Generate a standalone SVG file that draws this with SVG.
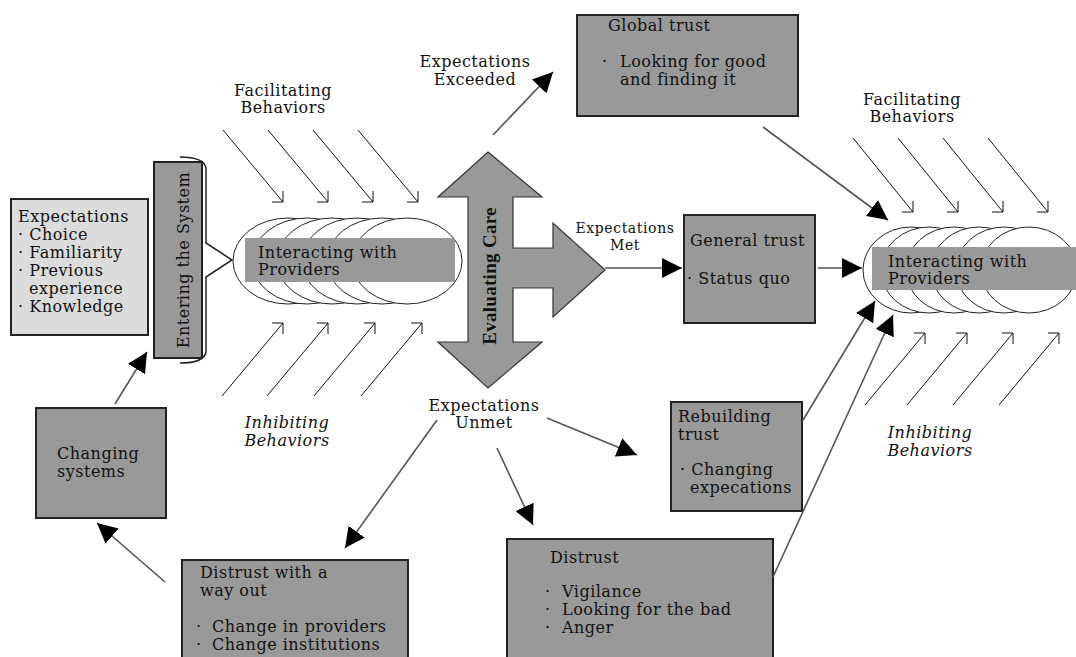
<svg xmlns="http://www.w3.org/2000/svg" width="1076" height="657" viewBox="0 0 1076 657">
<style>
.t{font-family:"DejaVu Serif","Liberation Serif",serif;font-size:16px;letter-spacing:0.5px;fill:#111}
.s{font-size:14px;letter-spacing:0.6px}
.it{font-style:italic}
.c{text-anchor:middle}
.box{fill:#999;stroke:#222;stroke-width:2}
.lbox{fill:#dcdcdc;stroke:#222;stroke-width:2}
.ell{fill:#fff;stroke:#222;stroke-width:1}
.band{fill:#999}
.con{stroke:#555;stroke-width:1.6;fill:none}
.beh{stroke:#111;stroke-width:1;fill:none}
.big{fill:#999;stroke:#333;stroke-width:1.2}
</style>
<defs>
<marker id="ah" markerUnits="userSpaceOnUse" markerWidth="20" markerHeight="20" viewBox="0 0 20 20" refX="20" refY="10" orient="auto">
<path d="M0,0 L20,10 L0,20 z" fill="#000"/>
</marker>
</defs>
<rect width="1076" height="657" fill="#fff"/>

<g id="expectations">
<rect class="lbox" x="11" y="199" width="137" height="136"/>
<text class="t" x="18" y="222">Expectations</text>
<text class="t" x="18" y="240">· Choice</text>
<text class="t" x="18" y="258">· Familiarity</text>
<text class="t" x="18" y="276">· Previous</text>
<text class="t" x="29" y="294">experience</text>
<text class="t" x="18" y="312">· Knowledge</text>
</g>

<g id="entering">
<rect class="box" x="154" y="162" width="48" height="196"/>
<text class="t" transform="translate(189,260) rotate(-90)" text-anchor="middle">Entering the System</text>
<path d="M180,157 Q204,157 206,168 L206,243 L232,260 L206,277 L206,352 Q204,363 180,363" fill="none" stroke="#222" stroke-width="1.5"/>
</g>

<g id="interacting-left">
<ellipse class="ell" cx="288" cy="261" rx="55" ry="43"/>
<ellipse class="ell" cx="307" cy="261" rx="55" ry="43"/>
<ellipse class="ell" cx="332" cy="261" rx="55" ry="43"/>
<ellipse class="ell" cx="357" cy="261" rx="55" ry="43"/>
<ellipse class="ell" cx="382" cy="261" rx="55" ry="43"/>
<ellipse class="ell" cx="407" cy="261" rx="55" ry="43"/>
<rect class="band" x="245" y="238" width="210" height="44"/>
<text class="t" x="258" y="258">Interacting with</text>
<text class="t" x="258" y="275">Providers</text>
</g>

<g id="facilitating-left">
<text class="t c" x="283" y="96">Facilitating</text>
<text class="t c" x="283" y="113">Behaviors</text>
<path class="beh" d="M223,130 L283,202 M272,202 L283,202 L283,191"/>
<path class="beh" d="M268,130 L328,202 M317,202 L328,202 L328,191"/>
<path class="beh" d="M313,130 L373,202 M362,202 L373,202 L373,191"/>
<path class="beh" d="M358,130 L418,202 M407,202 L418,202 L418,191"/>
</g>

<g id="inhibiting-left">
<path class="beh" d="M222,396 L283,323 M272,323 L283,323 L283,334"/>
<path class="beh" d="M267,396 L328,323 M317,323 L328,323 L328,334"/>
<path class="beh" d="M314,396 L375,323 M364,323 L375,323 L375,334"/>
<path class="beh" d="M361,396 L422,323 M411,323 L422,323 L422,334"/>
<text class="t it c" x="287" y="428">Inhibiting</text>
<text class="t it c" x="287" y="446">Behaviors</text>
</g>

<g id="evaluating">
<polygon class="big" points="488,152 542,197 513,197 513,248 553,248 553,223 605,270 553,317 553,288 513,288 513,342 542,342 488,388 438,342 468,342 468,197 438,197"/>
<text class="t" transform="translate(496,276) rotate(-90)" text-anchor="middle" style="font-family:'Liberation Serif',serif;font-weight:bold;font-size:19px;letter-spacing:0.3px">Evaluating Care</text>
</g>

<g id="labels">
<text class="t c" x="475" y="67">Expectations</text>
<text class="t c" x="475" y="85">Exceeded</text>
<text class="t s c" x="625" y="233">Expectations</text>
<text class="t s c" x="625" y="250">Met</text>
<text class="t c" x="484" y="411">Expectations</text>
<text class="t c" x="484" y="428">Unmet</text>
</g>

<g id="global-trust">
<rect class="box" x="577" y="15" width="221" height="101"/>
<text class="t" x="608" y="31">Global trust</text>
<text class="t" x="602" y="67">·</text>
<text class="t" x="620" y="67">Looking for good</text>
<text class="t" x="620" y="85">and finding it</text>
</g>

<g id="general-trust">
<rect class="box" x="684" y="215" width="131" height="108"/>
<text class="t" x="690" y="246">General trust</text>
<text class="t" x="687" y="284">· Status quo</text>
</g>

<g id="rebuilding-trust">
<rect class="box" x="671" y="402" width="131" height="109"/>
<text class="t" x="678" y="422">Rebuilding</text>
<text class="t" x="678" y="440">trust</text>
<text class="t" x="680" y="475">· Changing</text>
<text class="t" x="690" y="493">expecations</text>
</g>

<g id="distrust">
<rect class="box" x="507" y="539" width="266" height="130"/>
<text class="t" x="550" y="563">Distrust</text>
<text class="t" x="545" y="597">·</text>
<text class="t" x="562" y="597">Vigilance</text>
<text class="t" x="545" y="615">·</text>
<text class="t" x="562" y="615">Looking for the bad</text>
<text class="t" x="545" y="633">·</text>
<text class="t" x="562" y="633">Anger</text>
</g>

<g id="distrust-way-out">
<rect class="box" x="182" y="560" width="226" height="110"/>
<text class="t" x="200" y="578">Distrust with a</text>
<text class="t" x="200" y="596">way out</text>
<text class="t" x="196" y="632">·</text>
<text class="t" x="212" y="632">Change in providers</text>
<text class="t" x="196" y="650">·</text>
<text class="t" x="212" y="650">Change institutions</text>
</g>

<g id="changing-systems">
<rect class="box" x="36" y="408" width="130" height="110"/>
<text class="t" x="57" y="459">Changing</text>
<text class="t" x="57" y="477">systems</text>
</g>

<g id="interacting-right">
<ellipse class="ell" cx="911" cy="270" rx="48" ry="43"/>
<ellipse class="ell" cx="929" cy="270" rx="48" ry="43"/>
<ellipse class="ell" cx="954" cy="270" rx="48" ry="43"/>
<ellipse class="ell" cx="979" cy="270" rx="48" ry="43"/>
<ellipse class="ell" cx="1004" cy="270" rx="48" ry="43"/>
<ellipse class="ell" cx="1029" cy="270" rx="48" ry="43"/>
<rect class="band" x="872" y="247" width="204" height="43"/>
<text class="t" x="888" y="267">Interacting with</text>
<text class="t" x="888" y="284">Providers</text>
</g>

<g id="facilitating-right">
<text class="t c" x="912" y="105">Facilitating</text>
<text class="t c" x="912" y="122">Behaviors</text>
<path class="beh" d="M853,138 L913,212 M902,212 L913,212 L913,201"/>
<path class="beh" d="M898,138 L958,212 M947,212 L958,212 L958,201"/>
<path class="beh" d="M943,138 L1003,212 M992,212 L1003,212 L1003,201"/>
<path class="beh" d="M988,138 L1048,212 M1037,212 L1048,212 L1048,201"/>
</g>

<g id="inhibiting-right">
<path class="beh" d="M865,405 L925,333 M914,333 L925,333 L925,344"/>
<path class="beh" d="M907,405 L967,333 M956,333 L967,333 L967,344"/>
<path class="beh" d="M953,405 L1013,333 M1002,333 L1013,333 L1013,344"/>
<path class="beh" d="M999,405 L1059,333 M1048,333 L1059,333 L1059,344"/>
<text class="t it c" x="930" y="438">Inhibiting</text>
<text class="t it c" x="930" y="456">Behaviors</text>
</g>

<g id="connectors">
<line class="con" x1="493" y1="135" x2="553" y2="72" marker-end="url(#ah)"/>
<line class="con" x1="605" y1="268" x2="682" y2="268" marker-end="url(#ah)"/>
<line class="con" x1="763" y1="127" x2="888" y2="220" marker-end="url(#ah)"/>
<line class="con" x1="818" y1="268" x2="862" y2="268" marker-end="url(#ah)"/>
<line class="con" x1="803" y1="420" x2="875" y2="301" marker-end="url(#ah)"/>
<line class="con" x1="773" y1="577" x2="893" y2="315" marker-end="url(#ah)"/>
<line class="con" x1="547" y1="418" x2="637" y2="455" marker-end="url(#ah)"/>
<line class="con" x1="497" y1="448" x2="533" y2="525" marker-end="url(#ah)"/>
<line class="con" x1="437" y1="420" x2="345" y2="548" marker-end="url(#ah)"/>
<line class="con" x1="165" y1="582" x2="97" y2="523" marker-end="url(#ah)"/>
<line class="con" x1="115" y1="404" x2="147" y2="352" marker-end="url(#ah)"/>
</g>
</svg>
